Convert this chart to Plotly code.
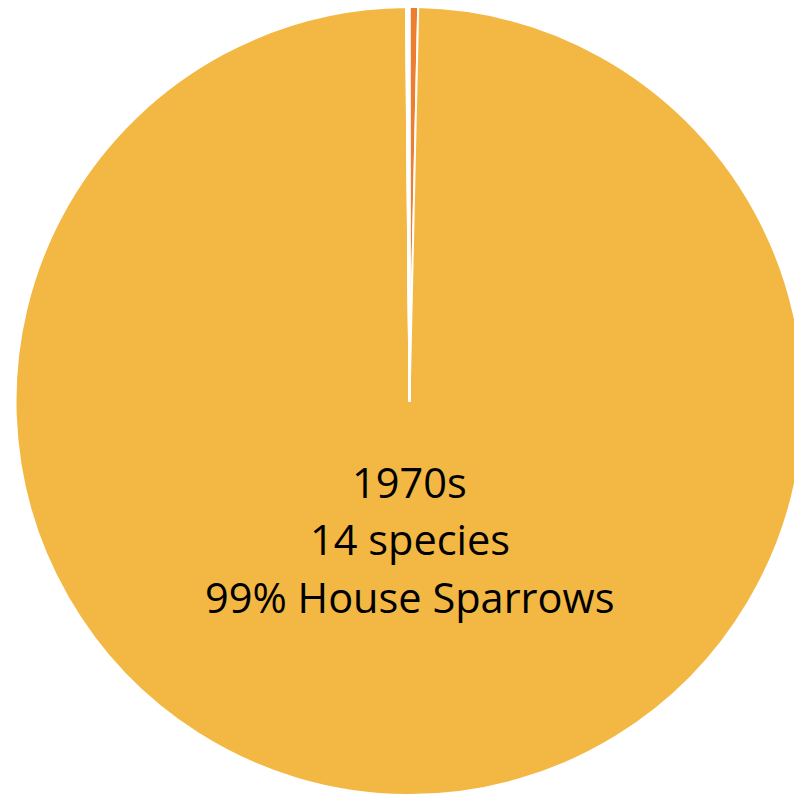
import plotly.graph_objects as go

# Garden bird survey, 1970s: individuals counted per species
species = [
    "Feral Pigeon", "House Sparrow", "Starling", "Blackbird", "Blue Tit",
    "Great Tit", "Robin", "Chaffinch", "Greenfinch", "Dunnock",
    "Wren", "Song Thrush", "Collared Dove", "Magpie",
]
counts = [30, 8500, 1, 1, 1, 1, 1, 1, 1, 1, 1, 1, 1, 1]
colors = ["#ED7D31", "#F2B843"] + ["#F2B843"] * 12

caption = ["1970s", "14 species", "99% House Sparrows"]

W, H = 819, 796
cx, cy, r = 409.5, 401, 394

fig = go.Figure(
    go.Pie(
        labels=species,
        values=counts,
        sort=False,
        direction="clockwise",
        rotation=0,
        textinfo="none",
        hoverinfo="label+value+percent",
        marker=dict(colors=colors, line=dict(color="white", width=2)),
        domain=dict(x=[0, 1], y=[1 - (cy + r) / H, 1 - (cy - r) / H]),
        showlegend=False,
    )
)

line_y = [482, 539, 597]
for txt, yp in zip(caption, line_y):
    fig.add_annotation(
        text=txt, x=cx / W, y=1 - yp / H, xref="paper", yref="paper",
        xanchor="center", yanchor="middle", showarrow=False,
        font=dict(family="Open Sans", size=41.5, color="black"),
    )

fig.update_layout(
    width=W, height=H,
    margin=dict(l=0, r=0, t=0, b=0),
    paper_bgcolor="white", plot_bgcolor="white",
)

fig.write_html(
    "out.html",
    post_script="document.documentElement.style.overflow='hidden';document.body.style.overflow='hidden';document.body.style.margin='0';",
)
